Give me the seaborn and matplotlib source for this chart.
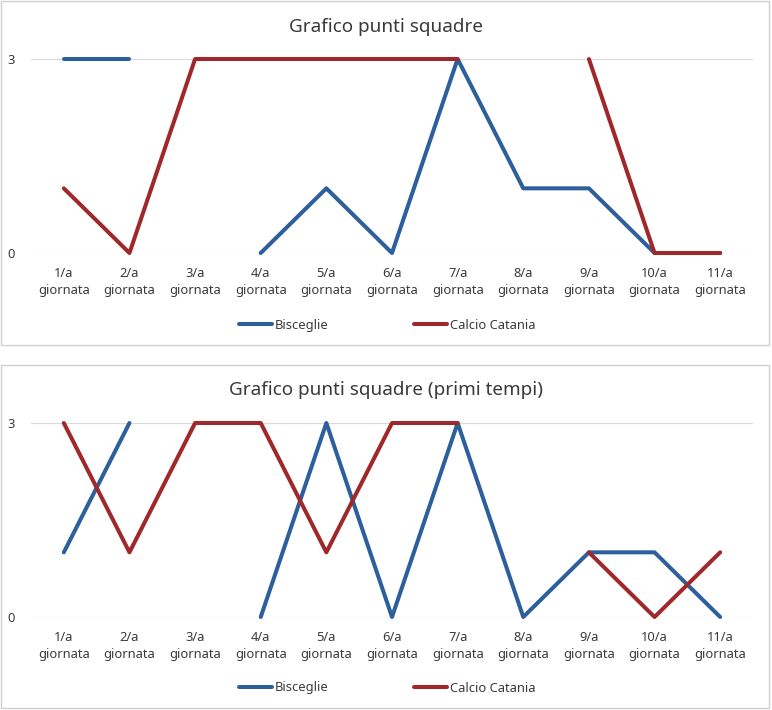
import numpy as np
import pandas as pd
import matplotlib
matplotlib.use("Agg")
import matplotlib.pyplot as plt
import seaborn as sns
from matplotlib.lines import Line2D
from matplotlib.patches import Rectangle

nan = np.nan

# dati
giornate = ["1/a\ngiornata", "2/a\ngiornata", "3/a\ngiornata", "4/a\ngiornata",
            "5/a\ngiornata", "6/a\ngiornata", "7/a\ngiornata", "8/a\ngiornata",
            "9/a\ngiornata", "10/a\ngiornata", "11/a\ngiornata"]
squadre = ["Bisceglie", "Calcio Catania"]
bisceglie_tot = [3, 3, nan, 0, 1, 0, 3, 1, 1, 0, 0]
catania_tot = [1, 0, 3, 3, 3, 3, 3, nan, 3, 0, 0]
bisceglie_pt = [1, 3, nan, 0, 3, 0, 3, 0, 1, 1, 0]
catania_pt = [3, 1, 3, 3, 1, 3, 3, nan, 1, 0, 1]
titoli = ["Grafico punti squadre", "Grafico punti squadre (primi tempi)"]

colori = {"Bisceglie": "#2C5F9B", "Calcio Catania": "#A0282B"}
testo = "#3A3A3A"

sns.set_style("white")
plt.rcParams["font.family"] = ["Noto Sans", "DejaVu Sans"]


def to_long(serie):
    # spezza le serie dove manca un valore, cosi' la linea resta interrotta
    rows = []
    for nome, vals in serie.items():
        seg = 0
        for i, v in enumerate(vals):
            if np.isnan(v):
                seg += 1
                continue
            rows.append({"x": i, "punti": v, "squadra": nome, "seg": seg})
    return pd.DataFrame(rows)


W, H = 772, 710
fig = plt.figure(figsize=(W / 100, H / 100), dpi=100)

pannelli = [
    (0, 345, 59, 253, 27, 325, {"Bisceglie": bisceglie_tot, "Calcio Catania": catania_tot}),
    (364, 708, 423, 617, 390, 688, {"Bisceglie": bisceglie_pt, "Calcio Catania": catania_pt}),
]

for k, (btop, bbot, ytop, ybot, ytit, yleg, serie) in enumerate(pannelli):
    # cornice del grafico
    fig.patches.append(Rectangle((1 / W, 1 - bbot / H), 768 / W, (bbot - btop - 1) / H,
                                 transform=fig.transFigure, fill=False,
                                 edgecolor="#D0D0D0", lw=1))
    ax = fig.add_axes([31 / W, 1 - ybot / H, 722 / W, (ybot - ytop) / H])
    df = to_long(serie)
    sns.lineplot(data=df, x="x", y="punti", hue="squadra", units="seg",
                 estimator=None, palette=colori, lw=2.9, sort=False,
                 legend=False, ax=ax)
    for l in ax.lines:
        l.set_clip_on(False)
        l.set_solid_capstyle("round")
        l.set_solid_joinstyle("round")
        l.set_zorder(3)
    ax.set_xlim(-0.5, 10.5)
    ax.set_ylim(0, 3)
    ax.set_yticks([0, 3])
    ax.set_xticks(range(len(giornate)))
    ax.set_xticklabels(giornate, linespacing=1.45)
    ax.tick_params(axis="x", length=0, pad=10, labelsize=9.3, labelcolor=testo)
    ax.tick_params(axis="y", length=0, pad=12, labelsize=9.3, labelcolor=testo)
    ax.set_xlabel("")
    ax.set_ylabel("")
    ax.grid(axis="y", color="#D9D9D9", lw=0.8)
    ax.set_axisbelow(True)
    sns.despine(ax=ax, left=True, bottom=True)
    fig.text(386 / W, 1 - ytit / H, titoli[k], ha="center", va="center",
             fontsize=13.6, color=testo)
    handles = [Line2D([0], [0], color=colori[s], lw=2.9, solid_capstyle="round")
               for s in squadre]
    fig.legend(handles, squadre, loc="center", bbox_to_anchor=(387 / W, 1 - yleg / H),
               ncol=2, frameon=False, fontsize=9.3, handlelength=2.6,
               handletextpad=0.2, columnspacing=6.6, labelcolor=testo)

fig.savefig("out.png", dpi=100)
